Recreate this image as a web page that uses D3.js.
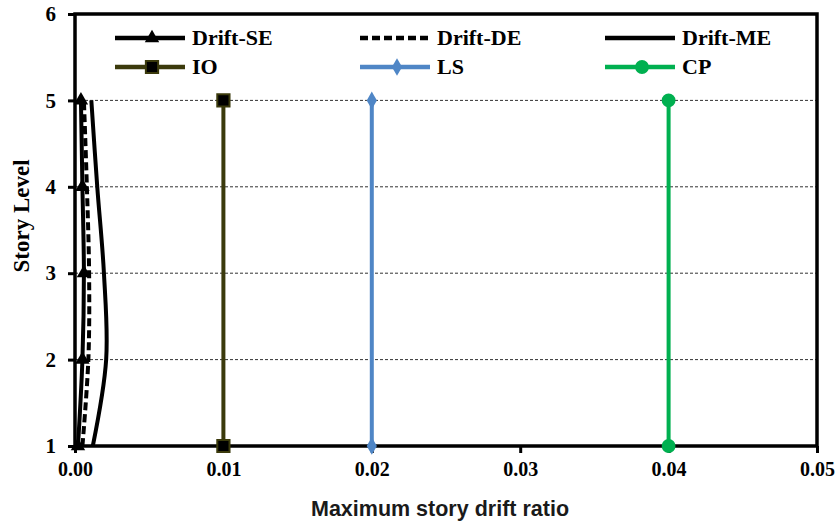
<!DOCTYPE html>
<html>
<head>
<meta charset="utf-8">
<script src="https://cdn.jsdelivr.net/npm/d3@7"></script>
<style>
  html, body { margin: 0; padding: 0; background: #fff; }
  svg { display: block; }
</style>
</head>
<body>
<svg id="chart" width="837" height="524"></svg>
<script>
// Story levels and drift ratios per story
const stories = [1, 2, 3, 4, 5];
const driftSE = [0.0002, 0.0005, 0.0006, 0.0005, 0.0004];
const driftDE = [0.0005, 0.0009, 0.00095, 0.0008, 0.0006];
const driftME = [0.0012, 0.0021, 0.00195, 0.0015, 0.0011];

// Performance-level limits (Immediate Occupancy, Life Safety, Collapse Prevention)
const limitStories = [1, 5];
const limitIO = [0.01, 0.01];
const limitLS = [0.02, 0.02];
const limitCP = [0.04, 0.04];

const xTicks = [0, 0.01, 0.02, 0.03, 0.04, 0.05];
const yTicks = [1, 2, 3, 4, 5, 6];
const gridLevels = [2, 3, 4, 5];

const svg = d3.select("#chart");
const x = d3.scaleLinear().domain([0, 0.05]).range([75, 817]);
const y = d3.scaleLinear().domain([1, 6]).range([446, 14]);

const serif = "'Liberation Serif', 'Times New Roman', serif";
const sans = "'Liberation Sans', Arial, sans-serif";

// horizontal gridlines
svg.append("g").selectAll("line").data(gridLevels).join("line")
  .attr("x1", x(0)).attr("x2", x(0.05))
  .attr("y1", d => y(d)).attr("y2", d => y(d))
  .attr("stroke", "#333").attr("stroke-width", 1)
  .attr("stroke-dasharray", "3,2");

// axes
const xAxis = svg.append("g").attr("transform", `translate(0,${y(1)})`)
  .call(d3.axisBottom(x).tickValues(xTicks).tickFormat(d3.format(".2f")).tickSize(7).tickPadding(9));
const yAxis = svg.append("g").attr("transform", `translate(${x(0)},0)`)
  .call(d3.axisLeft(y).tickValues(yTicks).tickFormat(d3.format("d")).tickSize(7).tickPadding(12));
[xAxis, yAxis].forEach(g => {
  g.select(".domain").remove();
  g.selectAll(".tick line").attr("stroke", "#000").attr("stroke-width", 3);
  g.selectAll(".tick text").attr("fill", "#000")
    .style("font-family", serif).style("font-weight", "bold").style("font-size", "20px");
});
yAxis.selectAll(".tick text").style("font-size", "21px");

// plot border
svg.append("rect")
  .attr("x", x(0)).attr("y", y(6))
  .attr("width", x(0.05) - x(0)).attr("height", y(1) - y(6))
  .attr("fill", "none").attr("stroke", "#000").attr("stroke-width", 3.5);

// axis titles
svg.append("text")
  .attr("x", 440).attr("y", 516)
  .attr("text-anchor", "middle")
  .style("font-family", sans).style("font-size", "21.5px").style("font-weight", "bold")
  .attr("fill", "#1a1a1a")
  .text("Maximum story drift ratio");

svg.append("text")
  .attr("transform", `translate(29,216) rotate(-90)`)
  .attr("text-anchor", "middle")
  .style("font-family", serif).style("font-size", "23px").style("font-weight", "bold")
  .text("Story Level");

const lineGen = d3.line().x(d => x(d[0])).y(d => y(d[1]));
const smoothGen = d3.line().x(d => x(d[0])).y(d => y(d[1])).curve(d3.curveCatmullRom.alpha(0.5));

const series = [
  { name: "IO", vals: limitIO, lv: limitStories, color: "#3b3a0c", marker: "square", width: 4 },
  { name: "LS", vals: limitLS, lv: limitStories, color: "#4f86c6", marker: "diamond", width: 4 },
  { name: "CP", vals: limitCP, lv: limitStories, color: "#00b050", marker: "circle", width: 4 },
];

const drifts = [
  { name: "Drift-ME", vals: driftME, lv: stories, color: "#000", marker: null, width: 4, dash: null },
  { name: "Drift-DE", vals: driftDE, lv: stories, color: "#000", marker: null, width: 4, dash: "8,4" },
  { name: "Drift-SE", vals: driftSE, lv: stories, color: "#000", marker: "triangle", width: 4, dash: null },
];

const symbolFor = {
  square: d3.symbol().type(d3.symbolSquare).size(150),
  diamond: d3.symbol().type(d3.symbolDiamond).size(90),
  circle: d3.symbol().type(d3.symbolCircle).size(150),
  triangle: d3.symbol().type(d3.symbolTriangle).size(90),
};
const markerFill = { square: "#000", diamond: null, circle: null, triangle: "#000" };

function drawMarkers(g, s, pts) {
  if (!s.marker) return;
  g.selectAll("path.mk").data(pts).join("path").attr("class", "mk")
    .attr("d", symbolFor[s.marker]())
    .attr("transform", d => `translate(${x(d[0])},${y(d[1])})`)
    .attr("fill", markerFill[s.marker] || s.color)
    .attr("stroke", s.marker === "square" ? s.color : "none")
    .attr("stroke-width", 2);
}

// limit lines
series.forEach(s => {
  const pts = s.vals.map((v, i) => [v, s.lv[i]]);
  const g = svg.append("g");
  g.append("path").attr("d", lineGen(pts)).attr("fill", "none")
    .attr("stroke", s.color).attr("stroke-width", s.width);
  drawMarkers(g, s, pts);
});

// drift profiles
drifts.forEach(s => {
  const pts = s.vals.map((v, i) => [v, s.lv[i]]);
  const g = svg.append("g");
  g.append("path").attr("d", smoothGen(pts)).attr("fill", "none")
    .attr("stroke", s.color).attr("stroke-width", s.width)
    .attr("stroke-dasharray", s.dash);
  drawMarkers(g, s, pts);
});

// legend
const legendItems = [
  { s: drifts[2], col: 0, row: 0 },
  { s: drifts[1], col: 1, row: 0 },
  { s: drifts[0], col: 2, row: 0 },
  { s: series[0], col: 0, row: 1 },
  { s: series[1], col: 1, row: 1 },
  { s: series[2], col: 2, row: 1 },
];
const colX = [115, 360, 605];
const rowY = [38, 67];
const leg = svg.append("g");
legendItems.forEach(({ s, col, row }) => {
  const g = leg.append("g").attr("transform", `translate(${colX[col]},${rowY[row]})`);
  g.append("line").attr("x1", 0).attr("x2", 70).attr("y1", 0).attr("y2", 0)
    .attr("stroke", s.color).attr("stroke-width", 4.5)
    .attr("stroke-dasharray", s.dash || null);
  if (s.marker) {
    g.append("path").attr("d", symbolFor[s.marker]())
      .attr("transform", "translate(37,0)")
      .attr("fill", markerFill[s.marker] || s.color)
      .attr("stroke", s.marker === "square" ? s.color : "none").attr("stroke-width", 2);
  }
  g.append("text").attr("x", 77).attr("y", 7)
    .style("font-family", serif).style("font-size", "22px").style("font-weight", "bold")
    .text(s.name);
});
</script>
</body>
</html>
